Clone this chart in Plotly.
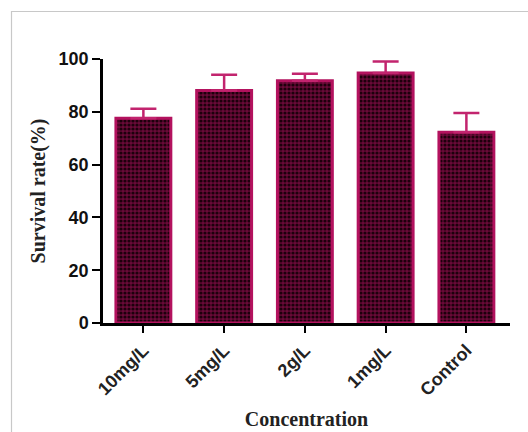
import plotly.graph_objects as go

# Survival rate by concentration, mean with upper error bar
categories = ["10mg/L", "5mg/L", "2g/L", "1mg/L", "Control"]
survival = [77.6, 88.1, 91.8, 94.7, 72.3]
errors = [3.6, 5.9, 2.6, 4.4, 7.2]
y_ticks = [0, 20, 40, 60, 80, 100]

W, H = 528, 432
L, R, T, B = 103, 18, 59, 109

fig = go.Figure()
fig.add_trace(go.Bar(
    x=categories,
    y=survival,
    width=0.68,
    marker=dict(
        color="#5e0832",
        line=dict(color="#b3125e", width=3),
        pattern=dict(shape=".", bgcolor="#6a0a38", fgcolor="#1e000c",
                     size=4, solidity=0.5, fillmode="replace"),
    ),
    error_y=dict(type="data", array=errors, symmetric=False, arrayminus=[0] * 5,
                 visible=True, color="#c2246e", thickness=2.5, width=13),
))

plot_w = W - L - R
plot_h = H - T - B

def px_x(px):
    return (px - L) / plot_w

def px_y(py):
    return (H - B - py) / plot_h

fig.update_layout(
    width=W, height=H,
    margin=dict(l=L, r=R, t=T, b=B),
    paper_bgcolor="white",
    plot_bgcolor="white",
    showlegend=False,
    xaxis=dict(
        range=[-0.5, 4.54],
        automargin=False,
        showgrid=False, zeroline=False,
        showline=True, linecolor="black", linewidth=2.5,
        ticks="outside", ticklen=7, tickwidth=2, tickcolor="black",
        tickangle=-45,
        tickfont=dict(family="Liberation Sans", size=18, color="#222222", weight="bold"),
        title=dict(text="Concentration",
                   font=dict(family="Liberation Serif", size=20, color="#222222", weight="bold"),
                   standoff=14),
    ),
    yaxis=dict(
        range=[0, 100],
        automargin=False,
        tickvals=y_ticks,
        showgrid=False, zeroline=False,
        showline=True, linecolor="black", linewidth=2.5,
        ticks="outside", ticklen=8, tickwidth=2, tickcolor="black",
        tickfont=dict(family="Liberation Sans", size=18, color="#111111", weight="bold"),
        title=dict(text="Survival rate(%)",
                   font=dict(family="Liberation Serif", size=20, color="#222222", weight="bold"),
                   standoff=8),
    ),
    shapes=[dict(
        type="rect", xref="paper", yref="paper",
        x0=px_x(11.5), x1=px_x(540), y0=px_y(445), y1=px_y(11.5),
        line=dict(color="#c8c8c8", width=1.2), fillcolor="rgba(0,0,0,0)", layer="below",
    )],
)

fig.write_html("out.html")
